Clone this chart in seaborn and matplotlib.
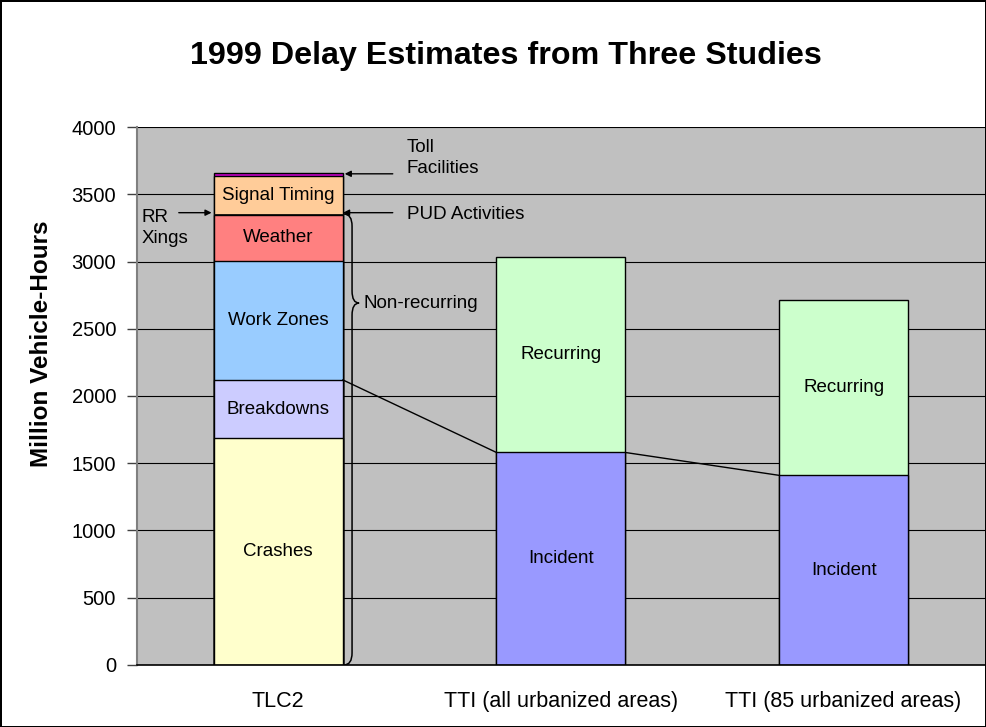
import matplotlib
matplotlib.use("Agg")
import matplotlib.pyplot as plt
from matplotlib.path import Path
from matplotlib.patches import PathPatch
import pandas as pd
import seaborn as sns

# data (million vehicle-hours)
studies = ["TLC2", "TTI (all urbanized areas)", "TTI (85 urbanized areas)"]

tlc2_segments = ["Crashes", "Breakdowns", "Work Zones", "Weather",
                 "RR Xings", "PUD Activities", "Signal Timing", "Toll Facilities"]
tlc2_values = [1685, 435, 885, 340, 4, 4, 282, 22]

tti_segments = ["Incident", "Recurring"]
tti_all_values = [1580, 1450]
tti_85_values = [1410, 1305]

seg_colors = {
    "Crashes": "#FFFFCC",
    "Breakdowns": "#CCCCFF",
    "Work Zones": "#99CCFF",
    "Weather": "#FF8080",
    "RR Xings": "#FFCC99",
    "PUD Activities": "#FFCC99",
    "Signal Timing": "#FFCC99",
    "Toll Facilities": "#CC00CC",
    "Incident": "#9999FF",
    "Recurring": "#CCFFCC",
}
inside_labels = ["Crashes", "Breakdowns", "Work Zones", "Weather",
                 "Signal Timing", "Incident", "Recurring"]


def build_frame():
    rows = []
    for study, segs, vals in [(studies[0], tlc2_segments, tlc2_values),
                              (studies[1], tti_segments, tti_all_values),
                              (studies[2], tti_segments, tti_85_values)]:
        bottom = 0
        for i, (s, v) in enumerate(zip(segs, vals)):
            rows.append(dict(study=study, segment=s, layer=i, value=v,
                             bottom=bottom, top=bottom + v))
            bottom += v
    return pd.DataFrame(rows)


sns.set_style("white")
plt.rcParams["font.family"] = ["Liberation Sans", "DejaVu Sans"]
plt.rcParams["text.color"] = "black"
plt.rcParams["axes.labelcolor"] = "black"
plt.rcParams["xtick.color"] = "black"
plt.rcParams["ytick.color"] = "black"

df = build_frame()
bar_w = 0.456

fig = plt.figure(figsize=(9.86, 7.27), dpi=100)
fig.patch.set_edgecolor("black")
fig.patch.set_linewidth(2)
ax = fig.add_axes([0.1389, 0.0853, 0.8600, 0.7400])
ax.set_facecolor("#C0C0C0")

# stacked bars: draw cumulative tops from the highest layer down
for _, row in df.sort_values(["study", "layer"], ascending=[True, False]).iterrows():
    lw = 1 if row["value"] > 20 else 0.6
    sns.barplot(data=pd.DataFrame([row]), x="study", y="top", order=studies,
                color=seg_colors[row["segment"]], saturation=1, width=bar_w,
                edgecolor="black", linewidth=lw, errorbar=None, ax=ax)

for _, row in df[df["segment"].isin(inside_labels)].iterrows():
    xi = studies.index(row["study"])
    ax.text(xi, (row["bottom"] + row["top"]) / 2, row["segment"],
            ha="center", va="center", fontsize=13.5)

# series lines between bars
tlc_link = df[(df.study == studies[0]) & (df.segment == "Breakdowns")]["top"].iloc[0]
all_link = df[(df.study == studies[1]) & (df.segment == "Incident")]["top"].iloc[0]
s85_link = df[(df.study == studies[2]) & (df.segment == "Incident")]["top"].iloc[0]
ax.plot([bar_w / 2, 1 - bar_w / 2], [tlc_link, all_link], color="black", lw=1)
ax.plot([1 + bar_w / 2, 2 - bar_w / 2], [all_link, s85_link], color="black", lw=1)

# annotations on the TLC2 bar
tlc = df[df.study == studies[0]].set_index("segment")
edge = bar_w / 2
arrow_kw = dict(arrowstyle="-|>", color="black", lw=1, mutation_scale=9,
                shrinkA=0, shrinkB=0)
toll_y = tlc.loc["Toll Facilities", "top"] - 5
pud_y = tlc.loc["PUD Activities", "top"] + 10
ax.annotate("", xy=(edge + 0.007, toll_y), xytext=(edge + 0.177, toll_y), arrowprops=arrow_kw)
ax.annotate("", xy=(edge + 0.001, pud_y), xytext=(edge + 0.177, pud_y), arrowprops=arrow_kw)
ax.annotate("", xy=(-edge - 0.008, pud_y), xytext=(-0.352, pud_y), arrowprops=arrow_kw)
ax.text(0.454, 3770, "Toll\nFacilities", ha="left", va="center", fontsize=13.5, linespacing=1.35)
ax.text(0.454, 3346, "PUD Activities", ha="left", va="center", fontsize=13.5)
ax.text(-0.484, 3249, "RR\nXings", ha="left", va="center", fontsize=13.5, linespacing=1.35)

# brace for the non-recurring part
y0 = 0
y1 = tlc.loc["PUD Activities", "top"]
ytip = 2691
xe, xl, xt = edge + 0.004, edge + 0.033, edge + 0.058
c = 90
verts = [(xe, y0), (xl, y0), (xl, y0 + c), (xl, ytip - c), (xl, ytip), (xt, ytip),
         (xt, ytip), (xl, ytip), (xl, ytip + c), (xl, y1 - c), (xl, y1), (xe, y1)]
codes = [Path.MOVETO, Path.CURVE3, Path.CURVE3, Path.LINETO, Path.CURVE3, Path.CURVE3,
         Path.MOVETO, Path.CURVE3, Path.CURVE3, Path.LINETO, Path.CURVE3, Path.CURVE3]
ax.add_patch(PathPatch(Path(verts, codes), facecolor="none", edgecolor="black", lw=1.1))
ax.text(0.302, ytip, "Non-recurring", ha="left", va="center", fontsize=13.5)

# axes styling
ax.set_xlim(-0.5, 2.5)
ax.set_ylim(0, 4000)
ax.set_yticks(range(0, 4001, 500))
ax.set_axisbelow(True)
ax.yaxis.grid(True, color="black", lw=0.8)
ax.xaxis.grid(False)
ax.set_xticks([0, 1, 2])
ax.set_xticklabels(studies, fontsize=15.5)
ax.set_xticks([-0.5, 0.5, 1.5, 2.5], minor=True)
ax.tick_params(axis="x", which="major", length=0, pad=19)
ax.tick_params(axis="x", which="minor", length=7, direction="out", color="black", width=1)
ax.tick_params(axis="y", length=7, direction="out", color="#404040", width=1,
               labelsize=14.5, pad=8, left=True)
for side in ["top", "right"]:
    ax.spines[side].set_visible(False)
ax.spines["left"].set_color("#808080")
ax.spines["left"].set_linewidth(1.5)
ax.spines["bottom"].set_color("black")
ax.spines["bottom"].set_linewidth(1.2)

ax.set_xlabel("")
ax.set_ylabel("Million Vehicle-Hours", fontsize=17.5, fontweight="bold")
ax.yaxis.set_label_coords(-0.099, 0.598)

fig.text(506 / 986, 1 - 56 / 727, "1999 Delay Estimates from Three Studies",
         ha="center", va="center", fontsize=23.2, fontweight="bold")

fig.savefig("out.png", dpi=100)
